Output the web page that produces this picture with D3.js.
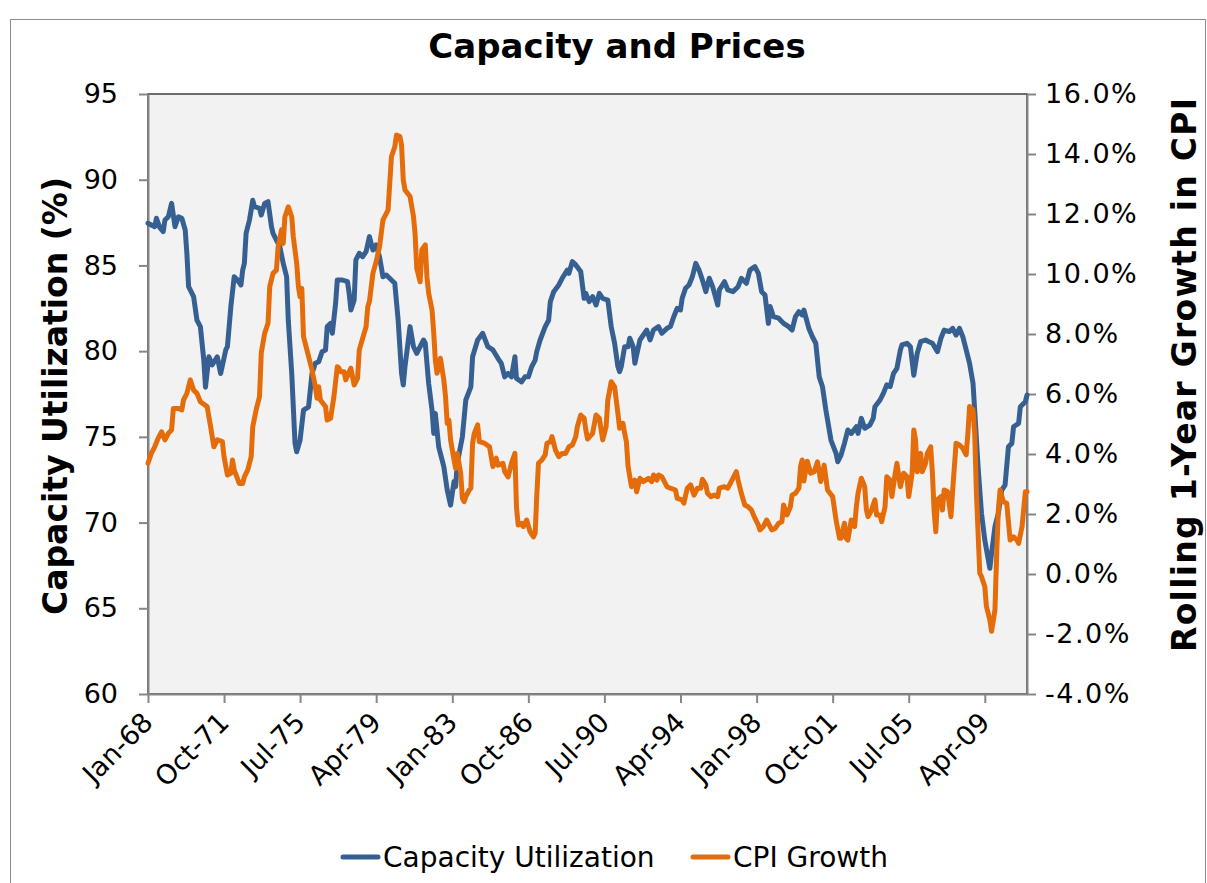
<!DOCTYPE html>
<html>
<head>
<meta charset="utf-8">
<script src="https://cdn.jsdelivr.net/npm/d3@7"></script>
<style>
  body { margin: 0; background: #fff; }
  svg { font-family: 'DejaVu Sans', Verdana, sans-serif; }
</style>
</head>
<body>
<svg width="1207" height="883"></svg>
<script>
// capacity utilization (%)
var capDates = [
  '1968-01','1968-05','1968-06','1968-08','1968-10','1968-11','1969-01','1969-03','1969-05','1969-07',
  '1969-09','1969-11','1969-12','1970-01','1970-04','1970-06','1970-08','1970-10','1970-11','1971-01',
  '1971-03','1971-06','1971-08','1971-11','1971-12','1972-02','1972-04','1972-06','1972-08','1972-09',
  '1972-10','1972-11','1973-01','1973-03','1973-04','1973-07','1973-08','1973-10','1973-12','1974-02',
  '1974-03','1974-05','1974-07','1974-09','1974-11','1974-12','1975-02','1975-04','1975-05','1975-07',
  '1975-09','1975-12','1976-02','1976-04','1976-06','1976-08','1976-10','1976-11','1977-01','1977-02',
  '1977-04','1977-05','1977-08','1977-11','1977-12','1978-01','1978-03','1978-04','1978-06','1978-08',
  '1978-10','1978-12','1979-02','1979-04','1979-06','1979-08','1979-10','1980-01','1980-03','1980-05',
  '1980-07','1980-08','1980-09','1980-12','1981-02','1981-04','1981-06','1981-08','1981-09','1981-11',
  '1982-01','1982-02','1982-03','1982-05','1982-08','1982-10','1982-12','1983-02','1983-03','1983-04',
  '1983-07','1983-09','1983-12','1984-01','1984-04','1984-07','1984-10','1985-01','1985-04','1985-06',
  '1985-08','1985-10','1985-12','1986-02','1986-03','1986-06','1986-08','1986-10','1986-12','1987-02',
  '1987-03','1987-05','1987-08','1987-10','1987-11','1988-01','1988-04','1988-06','1988-09','1988-10',
  '1988-12','1989-02','1989-05','1989-07','1989-08','1989-10','1989-12','1990-02','1990-04','1990-06',
  '1990-09','1990-11','1991-01','1991-03','1991-04','1991-05','1991-07','1991-09','1991-10','1991-12',
  '1992-01','1992-04','1992-06','1992-08','1992-10','1992-12','1993-03','1993-05','1993-08','1993-10',
  '1993-12','1994-02','1994-04','1994-05','1994-07','1994-09','1994-11','1995-01','1995-03','1995-05',
  '1995-07','1995-09','1995-11','1996-02','1996-03','1996-06','1996-08','1996-11','1997-02','1997-04',
  '1997-07','1997-09','1997-12','1998-02','1998-04','1998-06','1998-08','1998-09','1998-11','1999-02',
  '1999-05','1999-08','1999-10','1999-12','2000-02','2000-04','2000-05','2000-08','2000-10','2000-12',
  '2001-02','2001-04','2001-06','2001-09','2001-12','2002-01','2002-03','2002-05','2002-07','2002-09',
  '2002-12','2003-01','2003-03','2003-05','2003-08','2003-10','2003-11','2004-02','2004-04','2004-06',
  '2004-08','2004-10','2004-12','2005-02','2005-03','2005-06','2005-08','2005-10','2005-12','2006-02',
  '2006-05','2006-07','2006-09','2006-12','2007-02','2007-04','2007-07','2007-09','2007-11','2008-01',
  '2008-03','2008-05','2008-07','2008-09','2008-10','2008-12','2009-02','2009-04','2009-07','2009-08',
  '2009-10','2009-12','2010-02','2010-04','2010-06','2010-08','2010-09','2010-12','2011-01','2011-04',
  '2011-05'
];
var capValues = [
  87.46,87.26,87.75,87.2,86.97,87.65,87.84,88.62,87.26,87.84,
  87.75,87.07,85.7,83.76,83.18,81.8,81.43,79.5,77.9,79.67,
  79.2,79.67,78.7,80.07,80.26,82.6,84.34,84.15,83.86,84.73,
  85.12,86.87,87.65,88.8,88.43,88.33,87.94,88.62,88.72,87.26,
  86.87,86.48,86.1,85.12,84.34,81.8,78.7,74.62,74.13,74.8,
  76.56,76.75,78.7,79.29,79.38,79.97,80.07,81.43,81.62,81.04,
  82.79,84.15,84.15,84.05,83.37,82.4,82.98,85.32,85.71,85.51,
  85.8,86.68,85.9,86.2,85.5,84.34,84.44,84.15,83.96,81.8,
  78.7,78.03,79.1,81.43,80.26,79.87,80.26,80.65,80.46,78.13,
  76.56,75.2,76.37,74.42,73.26,71.9,71.02,72.4,72.1,73.46,
  75.0,77.15,77.92,79.67,80.65,81.04,80.26,80.07,79.58,79.29,
  78.5,78.7,78.5,79.67,78.41,78.21,78.5,78.5,79.1,79.48,
  79.97,80.65,81.43,81.8,82.89,83.47,83.86,84.25,84.73,84.54,
  85.22,85.03,84.64,83.08,83.37,82.89,83.18,82.69,83.37,83.08,
  82.98,81.43,80.46,79.1,78.8,79.1,80.26,80.26,80.75,80.26,
  79.29,80.65,80.94,81.23,80.65,81.23,81.43,81.04,81.33,81.43,
  82.01,82.5,82.4,83.08,83.67,83.86,84.34,85.12,84.73,84.15,
  83.47,84.25,83.76,82.69,83.57,84.05,83.57,83.47,83.76,84.25,
  83.96,84.73,84.93,84.54,83.47,83.27,81.62,82.6,82.01,81.92,
  81.62,81.43,81.23,82.01,82.3,82.11,82.4,81.3,80.84,80.46,
  78.5,77.92,76.56,74.8,74.04,73.55,73.94,74.62,75.4,75.2,
  75.59,75.2,76.08,75.5,75.69,76.08,76.76,77.15,77.54,78.03,
  77.93,78.7,79.0,80.07,80.36,80.46,80.26,78.6,79.87,80.55,
  80.65,80.55,80.46,79.97,80.75,81.23,81.14,81.33,80.94,81.33,
  80.84,80.07,79.29,78.13,76.56,73.26,70.53,68.98,67.33,68.2,
  69.76,70.53,71.9,72.19,74.42,74.62,75.59,75.79,76.76,77.05,
  77.44
];

// rolling 1-year CPI growth (%)
var cpiDates = [
  '1968-01','1968-03','1968-05','1968-07','1968-09','1968-11','1969-01','1969-03','1969-04','1969-07',
  '1969-09','1969-10','1969-12','1970-02','1970-04','1970-06','1970-08','1970-12','1971-02','1971-04',
  '1971-06','1971-09','1971-10','1971-12','1972-02','1972-03','1972-04','1972-07','1972-09','1972-10',
  '1972-12','1973-02','1973-03','1973-05','1973-07','1973-08','1973-10','1973-12','1974-01','1974-03',
  '1974-05','1974-06','1974-08','1974-09','1974-10','1974-12','1975-02','1975-03','1975-05','1975-06',
  '1975-07','1975-08','1975-09','1975-11','1976-02','1976-04','1976-05','1976-06','1976-07','1976-10',
  '1976-11','1977-01','1977-03','1977-05','1977-06','1977-07','1977-09','1977-10','1977-12','1978-01',
  '1978-03','1978-05','1978-06','1978-08','1978-10','1978-11','1978-12','1979-02','1979-04','1979-06',
  '1979-08','1979-09','1979-11','1980-01','1980-03','1980-04','1980-06','1980-07','1980-08','1980-09',
  '1980-12','1981-02','1981-03','1981-04','1981-06','1981-07','1981-09','1981-10','1981-11','1982-01',
  '1982-02','1982-03','1982-04','1982-06','1982-08','1982-09','1982-10','1982-11','1982-12','1983-02',
  '1983-03','1983-04','1983-06','1983-07','1983-08','1983-09','1983-11','1983-12','1984-01','1984-02',
  '1984-04','1984-05','1984-08','1984-11','1985-01','1985-03','1985-04','1985-07','1985-08','1985-10',
  '1985-12','1986-02','1986-03','1986-04','1986-06','1986-07','1986-09','1986-11','1987-01','1987-02',
  '1987-03','1987-04','1987-06','1987-08','1987-09','1987-11','1987-12','1988-02','1988-04','1988-06',
  '1988-08','1988-10','1988-12','1989-02','1989-03','1989-05','1989-07','1989-08','1989-09','1989-12',
  '1990-02','1990-04','1990-06','1990-08','1990-09','1990-11','1991-01','1991-03','1991-04','1991-06',
  '1991-07','1991-08','1991-09','1991-11','1992-01','1992-02','1992-04','1992-06','1992-09','1992-11',
  '1992-12','1993-02','1993-03','1993-05','1993-08','1993-10','1994-01','1994-02','1994-05','1994-06',
  '1994-08','1994-10','1994-12','1995-02','1995-04','1995-05','1995-07','1995-08','1995-10','1995-12',
  '1996-02','1996-03','1996-06','1996-08','1996-10','1997-01','1997-02','1997-04','1997-06','1997-08',
  '1997-10','1997-12','1998-02','1998-03','1998-05','1998-07','1998-10','1998-12','1999-02','1999-04',
  '1999-05','1999-07','1999-09','1999-10','1999-12','2000-02','2000-03','2000-04','2000-05','2000-07',
  '2000-09','2000-11','2001-01','2001-03','2001-05','2001-07','2001-10','2001-12','2002-02','2002-03',
  '2002-05','2002-06','2002-07','2002-09','2002-11','2002-12','2003-01','2003-03','2003-05','2003-06',
  '2003-07','2003-09','2003-11','2003-12','2004-02','2004-03','2004-05','2004-06','2004-08','2004-09',
  '2004-11','2004-12','2005-02','2005-04','2005-06','2005-07','2005-09','2005-10','2005-11','2005-12',
  '2006-02','2006-03','2006-05','2006-06','2006-08','2006-09','2006-10','2006-11','2006-12','2007-02',
  '2007-03','2007-04','2007-06','2007-08','2007-09','2007-11','2008-01','2008-03','2008-05','2008-06',
  '2008-07','2008-09','2008-10','2008-11','2009-01','2009-02','2009-04','2009-05','2009-07','2009-08',
  '2009-10','2009-11','2009-12','2010-01','2010-03','2010-05','2010-07','2010-09','2010-11','2010-12',
  '2011-02','2011-04','2011-05'
];
var cpiValues = [
  3.69,4.02,4.24,4.52,4.74,4.47,4.69,4.8,5.52,5.52,
  5.47,5.8,6.02,6.47,6.13,6.02,5.74,5.58,4.91,4.24,
  4.47,4.41,3.91,3.3,3.36,3.8,3.47,3.02,3.02,3.24,
  3.47,3.91,4.91,5.47,5.91,7.36,8.02,8.36,9.58,10.02,
  10.13,10.91,11.47,11.02,11.91,12.24,11.91,11.24,10.36,9.58,
  9.24,9.52,7.91,7.47,6.8,6.24,5.86,6.24,5.8,5.58,
  5.13,5.19,5.91,6.91,6.86,6.74,6.74,6.47,6.74,6.86,
  6.3,6.52,7.47,7.86,8.24,8.91,9.08,10.02,10.41,10.91,
  11.8,11.91,12.13,13.91,14.24,14.63,14.58,14.3,13.13,12.8,
  12.58,11.91,11.36,10.19,9.74,10.8,10.97,9.91,9.36,8.8,
  8.02,7.13,6.69,7.19,6.47,5.91,5.02,5.13,4.47,3.8,
  3.52,4.02,3.36,2.52,2.41,2.58,2.8,2.86,4.36,4.69,
  4.97,4.41,4.36,4.24,3.58,3.86,3.63,3.69,3.41,3.24,
  3.69,4.02,2.24,1.63,1.69,1.58,1.8,1.41,1.24,1.36,
  2.58,3.69,3.8,3.97,4.36,4.41,4.58,4.13,3.91,4.02,
  4.02,4.24,4.3,4.58,4.91,5.3,5.2,4.8,4.5,4.69,
  5.3,5.19,4.47,4.91,5.8,6.41,6.24,5.36,4.86,5.02,
  4.69,4.41,3.58,2.91,3.13,2.74,3.19,3.08,3.19,3.08,
  3.3,3.13,3.3,3.24,2.91,2.86,2.8,2.52,2.47,2.36,
  2.86,2.97,2.63,2.86,2.86,3.16,2.97,2.69,2.58,2.63,
  2.58,2.86,2.91,2.86,3.08,3.41,3.13,2.69,2.3,2.24,
  2.13,1.86,1.63,1.47,1.58,1.8,1.47,1.52,1.69,1.74,
  2.3,1.97,2.24,2.63,2.69,2.86,3.58,3.8,3.1,3.76,
  3.36,3.41,3.74,3.08,3.63,2.8,2.58,1.8,1.19,1.19,
  1.69,1.19,1.13,1.8,1.58,2.24,2.69,3.19,2.91,2.13,
  1.91,2.13,2.47,1.97,1.97,1.74,2.24,3.24,3.13,2.58,
  3.36,3.69,2.91,3.36,3.24,2.58,3.36,4.8,4.47,3.41,
  4.02,3.41,3.69,4.02,4.24,3.36,2.13,1.41,2.47,2.58,
  2.13,2.8,2.74,1.91,2.8,4.36,4.3,4.19,3.97,4.69,
  5.58,5.47,4.69,2.69,0.02,-0.09,-0.42,-1.09,-1.53,-1.91,
  -1.2,0.69,2.13,2.8,2.41,2.36,1.13,1.24,1.13,1.02,
  1.58,2.74,2.74
];

var xTickDates = ['1968-01','1971-10','1975-07','1979-04','1983-01','1986-10',
                  '1990-07','1994-04','1998-01','2001-10','2005-07','2009-04'];
var xTickLabels = ['Jan-68','Oct-71','Jul-75','Apr-79','Jan-83','Oct-86',
                   'Jul-90','Apr-94','Jan-98','Oct-01','Jul-05','Apr-09'];
var capTicks = [60, 65, 70, 75, 80, 85, 90, 95];
var cpiTicks = [-4, -2, 0, 2, 4, 6, 8, 10, 12, 14, 16];
var seriesNames = ['Capacity Utilization', 'CPI Growth'];
var seriesColors = ['#376092', '#e46c0a'];

function main() {
  var svg = d3.select('svg'),
      left = 148, right = 1027, top = 94, bottom = 694;
  var parse = d3.timeParse('%Y-%m');

  var xScale = d3.scaleTime().domain([parse('1968-01'), parse('2011-05')]).range([left, right]);
  var yCap = d3.scaleLinear().domain([60, 95]).range([bottom, top]);
  var yCpi = d3.scaleLinear().domain([-4, 16]).range([bottom, top]);

  // chart frame
  svg.append('rect')
     .attr('x', 10.5).attr('y', 19.5).attr('width', 1195).attr('height', 880)
     .attr('fill', '#fff').attr('stroke', '#8c8c8c').attr('stroke-width', 1);

  // plot area
  svg.append('rect')
     .attr('x', left).attr('y', top).attr('width', right - left).attr('height', bottom - top)
     .attr('fill', '#f2f2f2').attr('stroke', '#404040').attr('stroke-width', 1.5);

  svg.append('text') //title
     .attr('x', 617).attr('y', 58)
     .attr('text-anchor', 'middle')
     .style('font-size', '34px').style('font-weight', 'bold')
     .text('Capacity and Prices');

  // left axis
  var gL = svg.append('g').attr('transform', 'translate(' + left + ',0)')
     .call(d3.axisLeft(yCap).tickValues(capTicks).tickSize(9).tickSizeOuter(0).tickPadding(21)
       .tickFormat(function(d) { return d; }));
  // right axis
  var gR = svg.append('g').attr('transform', 'translate(' + right + ',0)')
     .call(d3.axisRight(yCpi).tickValues(cpiTicks).tickSize(9).tickSizeOuter(0).tickPadding(9)
       .tickFormat(function(d) { return d.toFixed(1) + '%'; }));
  // bottom axis
  var gB = svg.append('g').attr('transform', 'translate(0,' + bottom + ')')
     .call(d3.axisBottom(xScale).tickValues(xTickDates.map(parse)).tickSize(9).tickSizeOuter(0)
       .tickFormat(function(d, i) { return xTickLabels[i]; }));

  [gL, gR, gB].forEach(function(g) {
    g.attr('font-family', null).attr('font-size', null);
    g.select('.domain').attr('stroke', '#868686').attr('stroke-width', 2);
    g.selectAll('.tick line').attr('stroke', '#868686').attr('stroke-width', 2);
    g.selectAll('text').attr('fill', '#000').style('font-size', '27px');
  });
  gR.selectAll('text').style('letter-spacing', '1.5px');

  gB.selectAll('text')
    .attr('x', 0).attr('y', 0).attr('dy', 0)
    .attr('transform', 'translate(6,30) rotate(-45)') //labels slanted
    .style('text-anchor', 'end');

  svg.append('text') //left axis title
     .attr('transform', 'translate(67,396) rotate(-90)')
     .attr('text-anchor', 'middle')
     .style('font-size', '33px').style('font-weight', 'bold')
     .text('Capacity Utilization (%)');

  svg.append('text') //right axis title
     .attr('transform', 'translate(1196,375) rotate(-90)')
     .attr('text-anchor', 'middle')
     .attr('textLength', 554).attr('lengthAdjust', 'spacing')
     .style('font-size', '33px').style('font-weight', 'bold')
     .text('Rolling 1-Year Growth in CPI');

  var capData = capDates.map(function(d, i) { return {date: parse(d), value: capValues[i]}; });
  var cpiData = cpiDates.map(function(d, i) { return {date: parse(d), value: cpiValues[i]}; });

  var capLine = d3.line()
      .x(function(d) { return xScale(d.date); })
      .y(function(d) { return yCap(d.value); });
  var cpiLine = d3.line()
      .x(function(d) { return xScale(d.date); })
      .y(function(d) { return yCpi(d.value); });

  svg.append('path').datum(capData)
     .attr('d', capLine)
     .attr('fill', 'none').attr('stroke', seriesColors[0]).attr('stroke-width', 5)
     .attr('stroke-linejoin', 'round').attr('stroke-linecap', 'round');
  svg.append('path').datum(cpiData)
     .attr('d', cpiLine)
     .attr('fill', 'none').attr('stroke', seriesColors[1]).attr('stroke-width', 5)
     .attr('stroke-linejoin', 'round').attr('stroke-linecap', 'round');

  // legend
  var legendX = [343, 693];
  var legend = svg.selectAll('.legend')
     .data(seriesNames)
     .enter().append('g')
     .attr('class', 'legend')
     .attr('transform', function(d, i) { return 'translate(' + legendX[i] + ',857)'; });
  legend.append('line')
     .attr('x1', 0).attr('x2', 35).attr('y1', 0).attr('y2', 0)
     .attr('stroke', function(d, i) { return seriesColors[i]; })
     .attr('stroke-width', 5).attr('stroke-linecap', 'round');
  legend.append('text')
     .attr('x', 40).attr('y', 10)
     .style('font-size', '28px')
     .text(function(d) { return d; });
}

main();
</script>
</body>
</html>
